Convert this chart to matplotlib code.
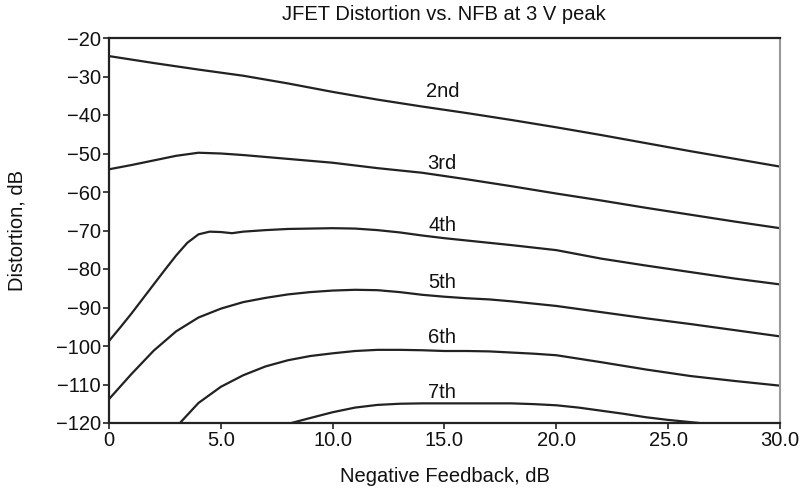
import matplotlib
matplotlib.use("Agg")
import matplotlib.pyplot as plt
import numpy as np

plt.rcParams['font.family'] = ['Liberation Sans', 'DejaVu Sans']

# Data (NFB dB, distortion dB)
x2 = [0, 2, 4, 6, 8, 10, 12, 14, 16, 18, 20, 22, 24, 26, 28, 30]
y2 = [-24.7, -26.5, -28.2, -29.8, -31.8, -34.0, -36.0, -37.8, -39.5, -41.3, -43.2, -45.2, -47.3, -49.4, -51.4, -53.4]

x3 = [0, 1, 2, 3, 4, 5, 6, 7, 8, 10, 12, 14, 16, 18, 20, 22, 24, 26, 28, 30]
y3 = [-54.1, -53.0, -51.8, -50.6, -49.8, -50.0, -50.4, -50.9, -51.4, -52.4, -53.8, -55.0, -56.7, -58.5, -60.4, -62.2, -64.1, -65.9, -67.7, -69.4]

x4 = [0, 0.5, 1, 1.5, 2, 2.5, 3, 3.5, 4, 4.5, 5, 5.5, 6, 7, 8, 10, 11, 12, 13, 14, 15, 16, 17, 18, 20, 22, 24, 26, 28, 30]
y4 = [-98.7, -95.2, -91.6, -87.8, -84.0, -80.2, -76.5, -73.2, -71.0, -70.3, -70.4, -70.7, -70.3, -69.9, -69.6, -69.4, -69.5, -69.9, -70.5, -71.3, -72.0, -72.6, -73.2, -73.8, -75.1, -77.3, -79.1, -80.8, -82.5, -84.0]

x5 = [0, 1, 2, 3, 4, 5, 6, 7, 8, 9, 10, 11, 12, 13, 14, 15, 16, 17, 18, 20, 22, 24, 26, 28, 30]
y5 = [-113.8, -107.3, -101.2, -96.2, -92.6, -90.3, -88.6, -87.5, -86.6, -86.0, -85.6, -85.4, -85.5, -86.0, -86.7, -87.2, -87.6, -87.9, -88.4, -89.6, -91.2, -92.8, -94.3, -95.9, -97.5]

x6 = [3.17, 4, 5, 6, 7, 8, 9, 10, 11, 12, 13, 14, 15, 16, 17, 18, 19, 20, 22, 24, 26, 28, 30]
y6 = [-120.0, -114.8, -110.6, -107.6, -105.3, -103.7, -102.6, -101.9, -101.3, -101.0, -101.0, -101.1, -101.3, -101.3, -101.4, -101.7, -102.0, -102.4, -104.2, -106.1, -107.8, -109.1, -110.3]

x7 = [8.15, 9, 10, 11, 12, 13, 14, 16, 18, 19, 20, 21, 22, 23, 24, 25, 26.4]
y7 = [-120.0, -118.7, -117.2, -116.0, -115.3, -115.0, -114.9, -114.9, -114.9, -115.1, -115.4, -116.0, -116.8, -117.6, -118.5, -119.2, -120.0]

series = [(x2, y2), (x3, y3), (x4, y4), (x5, y5), (x6, y6), (x7, y7)]
labels = ['2nd', '3rd', '4th', '5th', '6th', '7th']
label_x = [14.9, 14.9, 14.9, 14.9, 14.9, 14.9]
label_y = [-34.0, -52.5, -68.7, -83.6, -97.7, -112.0]

xticks = [0, 5, 10, 15, 20, 25, 30]
xticklabels = ['0', '5.0', '10.0', '15.0', '20.0', '25.0', '30.0']
yticks = [-20, -30, -40, -50, -60, -70, -80, -90, -100, -110, -120]

FS = 14.5

fig = plt.figure(figsize=(8.03, 4.92), dpi=100)
ax = fig.add_axes([109/803, 1-423/492, (780-109)/803, (423-38)/492])

for xs, ys in series:
    ax.plot(xs, ys, color='#222222', lw=1.6, solid_capstyle='butt')

for lab, lx, ly in zip(labels, label_x, label_y):
    ax.text(lx, ly, lab, ha='center', va='center', fontsize=FS, color='#111111')

ax.set_xlim(0, 30)
ax.set_ylim(-120, -20)
ax.set_xticks(xticks)
ax.set_xticklabels(xticklabels)
ax.set_yticks(yticks)
ax.tick_params(axis='both', labelsize=FS, direction='out', length=4, width=1.2, colors='#222222', labelcolor='#111111')
ax.tick_params(axis='x', pad=2)
ax.tick_params(axis='y', pad=2)

for s in ['left', 'bottom', 'top']:
    ax.spines[s].set_color('#222222')
    ax.spines[s].set_linewidth(1.6)
ax.spines['right'].set_color('#999999')
ax.spines['right'].set_linewidth(1.5)

fig.text(444/803, 1-15/492, 'JFET Distortion vs. NFB at 3 V peak', fontsize=FS, color='#111111', ha='center', va='center')
ax.set_xlabel('Negative Feedback, dB', fontsize=FS, color='#111111')
ax.set_ylabel('Distortion, dB', fontsize=FS, color='#111111')
ax.xaxis.set_label_coords(0.5, (423-477)/385)
ax.yaxis.set_label_coords((17-109)/671, 0.5)
ax.xaxis.label.set_va('center')
ax.yaxis.label.set_va('center')

fig.savefig('out.png', dpi=100)
